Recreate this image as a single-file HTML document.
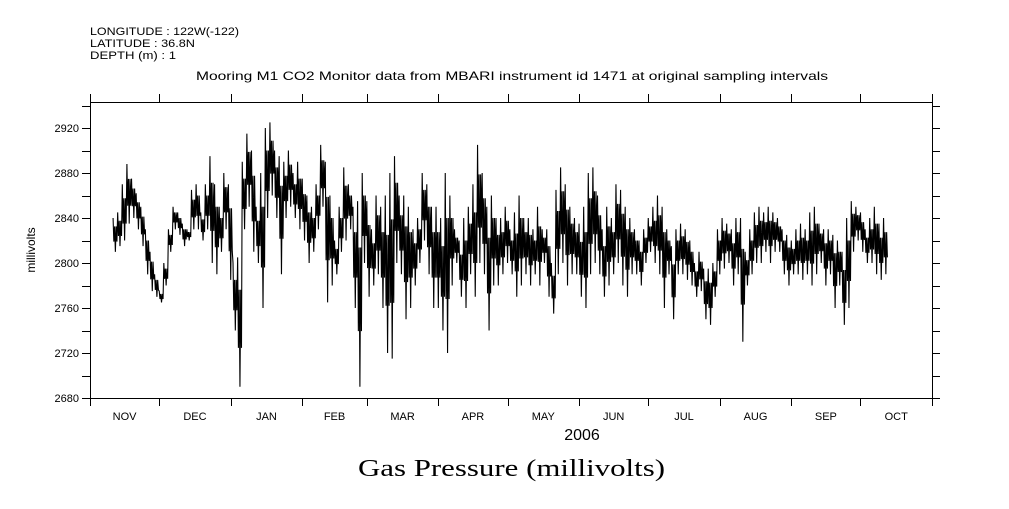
<!DOCTYPE html>
<html><head><meta charset="utf-8"><style>
body{margin:0;background:#fff;}
svg text{font-family:"Liberation Sans",sans-serif;fill:#000;}
</style></head><body>
<svg id="chart" width="1009" height="504" xmlns="http://www.w3.org/2000/svg">
<text x="90" y="35" font-size="11" textLength="149" lengthAdjust="spacingAndGlyphs">LONGITUDE : 122W(-122)</text>
<text x="90" y="47" font-size="11" textLength="105" lengthAdjust="spacingAndGlyphs">LATITUDE : 36.8N</text>
<text x="90" y="59" font-size="11" textLength="86" lengthAdjust="spacingAndGlyphs">DEPTH (m) : 1</text>
<text x="196" y="80" font-size="12" textLength="632" lengthAdjust="spacingAndGlyphs">Mooring M1 CO2 Monitor data from MBARI instrument id 1471 at original sampling intervals</text>
<text transform="translate(35,250) rotate(-90)" font-size="12" text-anchor="middle">millivolts</text>
<text x="582" y="440" font-size="16" text-anchor="middle">2006</text>
<text x="358" y="476" font-size="24" textLength="307" lengthAdjust="spacingAndGlyphs" style="font-family:'Liberation Serif',serif">Gas Pressure (millivolts)</text>
<rect x="90.5" y="102.5" width="842" height="296" fill="none" stroke="#000" stroke-width="1"/>
<g id="axes"></g>
<g id="series"></g>
</svg>
<script>
const yTicks=[2680,2720,2760,2800,2840,2880,2920];
const months=["NOV","DEC","JAN","FEB","MAR","APR","MAY","JUN","JUL","AUG","SEP","OCT"];
const monthStartDays=[0,30,61,92,120,151,181,212,242,273,304,334,365];
const startDay=10, stepDays=2;
const highs=[2840,2845,2870,2888,2875,2862,2850,2830,2810,2790,
2775,2800,2830,2850,2845,2835,2830,2865,2870,2845,
2870,2895,2870,2850,2880,2870,2800,2805,2890,2915,
2900,2850,2880,2920,2925,2900,2895,2890,2900,2880,
2890,2875,2860,2850,2870,2905,2890,2860,2820,2850,
2885,2870,2850,2855,2880,2855,2830,2860,2850,2860,
2880,2895,2860,2860,2850,2830,2840,2880,2870,2850,
2850,2840,2880,2860,2830,2820,2840,2850,2870,2905,
2880,2850,2860,2840,2840,2850,2830,2845,2860,2840,
2840,2830,2850,2830,2830,2800,2865,2885,2870,2850,
2840,2835,2850,2880,2885,2860,2830,2850,2840,2870,
2865,2850,2840,2830,2820,2830,2840,2850,2860,2850,
2830,2815,2830,2835,2830,2820,2800,2810,2795,2795,
2800,2830,2840,2835,2830,2840,2840,2810,2830,2845,
2850,2845,2850,2845,2840,2830,2825,2820,2830,2835,
2830,2845,2850,2835,2830,2830,2825,2820,2810,2840,
2855,2850,2845,2830,2840,2850,2835,2840];
const lows=[2810,2815,2820,2835,2840,2830,2815,2790,2775,2770,
2765,2780,2810,2830,2825,2815,2820,2830,2830,2820,
2830,2800,2790,2810,2830,2785,2740,2690,2830,2850,
2810,2800,2760,2840,2860,2840,2790,2840,2850,2840,
2830,2820,2800,2810,2830,2850,2765,2780,2790,2810,
2820,2830,2760,2690,2800,2770,2780,2790,2760,2720,
2715,2800,2790,2750,2760,2780,2800,2820,2790,2760,
2760,2740,2720,2780,2800,2770,2760,2790,2770,2800,
2790,2740,2780,2780,2790,2800,2790,2770,2780,2790,
2780,2790,2780,2800,2770,2755,2790,2800,2780,2790,
2790,2770,2760,2790,2800,2790,2770,2780,2790,2800,
2780,2770,2790,2790,2780,2800,2810,2800,2790,2760,
2790,2750,2790,2790,2785,2780,2770,2775,2750,2745,
2770,2790,2795,2800,2780,2790,2730,2780,2790,2800,
2800,2810,2800,2810,2810,2790,2780,2790,2790,2785,
2790,2780,2790,2800,2780,2790,2760,2780,2745,2760,
2810,2820,2810,2800,2800,2790,2785,2790];
const NS="http://www.w3.org/2000/svg";
const X0=90,X1=932;
function xScale(d){return X0+d*(X1-X0)/365;}
function yScale(v){return 128+(2920-v)*1.125;}
const axes=document.getElementById('axes');
function line(x1,y1,x2,y2,name){const l=document.createElementNS(NS,'line');l.setAttribute('x1',x1);l.setAttribute('y1',y1);l.setAttribute('x2',x2);l.setAttribute('y2',y2);l.setAttribute('stroke','#000');


axes.appendChild(l);}
function txt(x,y,s,anchor,size,name){const t=document.createElementNS(NS,'text');t.setAttribute('x',x);t.setAttribute('y',y);t.setAttribute('text-anchor',anchor);t.setAttribute('font-size',size);t.textContent=s;


axes.appendChild(t);}
for(let v=2680;v<=2940;v+=20){const y=Math.round(yScale(v))+0.5;if(y<102)continue;line(82,y,90,y,'y-tick');line(932,y,940,y,'y-tick-right');}
yTicks.forEach(v=>{txt(79,yScale(v)+4,String(v),'end',11,'y-tick-label');});
monthStartDays.forEach(d=>{const x=Math.round(xScale(d))+0.5;line(x,94,x,102,'x-tick-top');line(x,398,x,406,'x-tick');});
months.forEach((m,i)=>{txt(xScale((monthStartDays[i]+monthStartDays[i+1])/2),420,m,'middle',11,'month-label');});
let pts=[];const sub=6;
for(let i=0;i<highs.length;i++){const d=startDay+i*stepDays;const mid=(highs[i]+lows[i])/2;for(let k=0;k<sub;k++){const dd=d+k*stepDays/sub;const x=xScale(dd).toFixed(2);let v;if(k===0)v=highs[i];else if(k===3)v=lows[i];else v=(k%2)?mid-(highs[i]-lows[i])*0.2:mid+(highs[i]-lows[i])*0.25;pts.push(x+','+yScale(v).toFixed(1));}}
const p=document.createElementNS(NS,'polyline');p.setAttribute('points',pts.join(' '));p.setAttribute('fill','none');p.setAttribute('stroke','#000');p.setAttribute('stroke-width','1.1');


document.getElementById('series').appendChild(p);
</script>
</body></html>
